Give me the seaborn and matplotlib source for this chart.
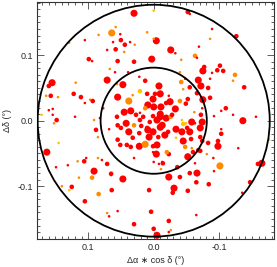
import numpy as np
import pandas as pd
import matplotlib
matplotlib.use("Agg")
import matplotlib.pyplot as plt
from matplotlib.patches import Circle
from matplotlib.ticker import MultipleLocator
import seaborn as sns

# ---- data (degrees offsets), size class, colour class ----
x = [0.030, 0.058, 0.064, 0.084, 0.051, 0.105, 0.050, 0.062, 0.044, 0.036,
     0.029, 0.129, 0.058, 0.071, 0.045, 0.099, 0.094, 0.055, 0.030, 0.067,
     0.059, 0.039, 0.071, 0.047, 0.056, 0.022, 0.013, 0.155, 0.160, 0.119,
     0.122, 0.055, 0.164, 0.157, 0.146, 0.111, 0.097, 0.093, 0.105, 0.032,
     0.021, 0.038, 0.154, 0.160, 0.077, 0.009, 0.013, 0.045, 0.035, 0.027,
     0.056, 0.171, 0.154, 0.148, 0.120, 0.082, 0.091, 0.042, 0.055, 0.030,
     0.019, 0.050, 0.068, 0.088, 0.152, 0.085, 0.038, 0.022, 0.009, 0.007,
     0.032, 0.055, 0.041, 0.035, 0.022, 0.013, 0.051, 0.001, 0.001, 0.030,
     0.085, 0.079, 0.071, 0.065, 0.047, 0.145, 0.163, 0.149, 0.131, 0.116,
     0.106, 0.103, 0.091, 0.065, 0.114, 0.094, 0.125, 0.129, 0.140, 0.064,
     0.084, 0.105, 0.055, 0.071, 0.068, 0.030, 0.007,
     0.000, -0.052, -0.055, 0.010, -0.089, -0.004, 0.000, -0.126, -0.086, -0.026,
     -0.033, -0.069, -0.063, -0.066, -0.042, 0.003, -0.101, -0.077, -0.075, -0.097,
     -0.106, -0.089, -0.040, -0.124, -0.121, -0.068, -0.048, -0.086, -0.042, -0.008,
     -0.055, -0.072, -0.045, -0.083, -0.138, -0.002, -0.010, 0.010, -0.023, -0.066,
     -0.086, -0.075, -0.040, -0.049, 0.001, -0.011, -0.019, 0.000, -0.025, -0.033,
     -0.052, -0.110, -0.121, -0.074, -0.092, 0.016, 0.001, -0.010, -0.019, -0.005,
     -0.026, -0.043, -0.049, -0.062, -0.072, -0.063, -0.156, -0.136, 0.006, -0.013,
     0.010, -0.034, -0.051, -0.071, 0.001, -0.103, -0.028, -0.010, 0.021, 0.021,
     -0.034, -0.057, -0.098, -0.098, -0.176, -0.004, -0.023, -0.052, -0.071, -0.081,
     -0.091, 0.000, -0.008, -0.011, -0.014, -0.063, -0.066, -0.092, -0.101, -0.159,
     -0.165, -0.023, -0.040, -0.065, -0.084, -0.147, -0.029, -0.052, -0.135, 0.004,
     -0.023, -0.065, -0.026, -0.023, 0.000, -0.005, -0.045, -0.058, -0.074, -0.043,
     -0.055, -0.022, -0.017, -0.010, -0.007, -0.045, -0.071, -0.074, -0.083, -0.005,
     -0.048, -0.058, -0.060, -0.068, -0.020, -0.013, -0.036, -0.055, -0.031, -0.103,
     -0.103, -0.129]
y = [0.164, 0.143, 0.134, 0.131, 0.132, 0.123, 0.123, 0.120, 0.116, 0.120,
     0.116, 0.119, 0.109, 0.108, 0.105, 0.094, 0.091, 0.091, 0.090, 0.079,
     0.074, 0.074, 0.062, 0.055, 0.056, 0.067, 0.061, 0.058, 0.053, 0.058,
     0.041, 0.036, 0.038, 0.038, 0.036, 0.036, 0.032, 0.030, 0.027, 0.039,
     0.045, 0.030, 0.018, 0.016, 0.019, 0.024, 0.019, 0.013, 0.015, 0.009,
     0.006, 0.009, 0.009, 0.001, 0.006, 0.004, 0.001, -0.004, -0.007, -0.007,
     -0.008, -0.011, -0.013, -0.014, -0.004, -0.025, -0.017, -0.019, -0.014, -0.025,
     -0.026, -0.029, -0.037, -0.040, -0.039, -0.036, -0.037, -0.039, -0.048, -0.057,
     -0.057, -0.060, -0.066, -0.083, -0.089, -0.034, -0.048, -0.071, -0.068, -0.062,
     -0.062, -0.057, -0.077, -0.081, -0.087, -0.087, -0.101, -0.106, -0.100, -0.106,
     -0.112, -0.123, -0.138, -0.141, -0.146, -0.158, -0.106,
     0.168, 0.166, 0.163, 0.135, 0.140, 0.122, 0.125, 0.129, 0.125, 0.108,
     0.103, 0.113, 0.099, 0.096, 0.093, 0.094, 0.084, 0.082, 0.076, 0.077,
     0.076, 0.073, 0.074, 0.070, 0.061, 0.062, 0.064, 0.064, 0.059, 0.053,
     0.051, 0.053, 0.048, 0.050, 0.051, 0.041, 0.041, 0.041, 0.038, 0.042,
     0.035, 0.032, 0.030, 0.026, 0.033, 0.021, 0.027, 0.021, 0.029, 0.018,
     0.033, 0.019, 0.009, 0.019, 0.007, 0.006, 0.007, 0.006, 0.004, 0.001,
     0.006, 0.001, -0.004, 0.013, 0.009, -0.004, 0.006, 0.000, -0.002, -0.007,
     -0.011, -0.013, -0.011, -0.011, -0.017, 0.015, 0.009, 0.010, 0.001, 0.012,
     -0.026, -0.028, -0.031, -0.039, -0.029, -0.051, -0.051, -0.055, -0.046, -0.051,
     -0.057, -0.063, -0.066, -0.074, -0.065, -0.065, -0.080, -0.077, -0.069, -0.066,
     -0.065, -0.086, -0.086, -0.094, -0.097, -0.094, -0.110, -0.107, -0.110, -0.139,
     -0.153, -0.144, -0.167, -0.170, -0.165, -0.175, -0.005, -0.002, -0.002, -0.017,
     -0.017, -0.017, -0.022, -0.010, -0.025, -0.031, -0.025, -0.031, -0.034, -0.037,
     -0.040, -0.042, -0.048, -0.045, -0.048, -0.063, -0.071, -0.080, -0.103, -0.013,
     -0.020, -0.042]
size_class = ["l", "s", "l", "s", "s", "s", "m", "s", "m", "s",
              "s", "s", "m", "s", "s", "m", "s", "m", "m", "s",
              "s", "s", "l", "l", "s", "s", "m", "l", "m", "s",
              "m", "l", "s", "m", "s", "m", "s", "m", "s", "s",
              "m", "l", "s", "s", "s", "l", "m", "l", "l", "m",
              "m", "s", "s", "m", "s", "s", "s", "l", "m", "m",
              "m", "m", "s", "m", "s", "s", "l", "m", "l", "l",
              "m", "m", "m", "m", "l", "l", "m", "m", "s", "s",
              "s", "s", "m", "s", "l", "s", "l", "s", "s", "s",
              "m", "s", "l", "m", "s", "m", "m", "s", "s", "m",
              "m", "m", "s", "s", "s", "m", "m",
              "s", "m", "s", "s", "s", "l", "s", "m", "s", "l",
              "s", "s", "m", "s", "s", "l", "m", "m", "l", "m",
              "m", "s", "s", "m", "s", "l", "s", "s", "m", "l",
              "m", "l", "s", "m", "m", "m", "l", "m", "s", "m",
              "m", "l", "m", "m", "l", "l", "m", "l", "l", "l",
              "m", "m", "s", "s", "s", "m", "m", "l", "l", "l",
              "m", "s", "s", "s", "m", "s", "s", "l", "m", "l",
              "m", "l", "m", "l", "l", "s", "m", "l", "m", "s",
              "s", "m", "m", "l", "s", "l", "m", "l", "m", "s",
              "s", "s", "s", "s", "m", "s", "l", "s", "l", "m",
              "l", "l", "m", "m", "m", "m", "m", "m", "s", "m",
              "m", "s", "s", "s", "m", "l", "m", "l", "l", "l",
              "l", "m", "l", "l", "m", "l", "m", "m", "m", "l",
              "m", "s", "m", "m", "m", "s", "m", "m", "l", "s",
              "m", "s"]
color_class = ["r", "o", "o", "o", "r", "r", "r", "r", "r", "r",
               "o", "o", "r", "r", "o", "r", "r", "r", "r", "o",
               "r", "r", "r", "r", "o", "r", "r", "r", "r", "o",
               "r", "r", "o", "r", "o", "r", "o", "r", "r", "o",
               "y", "o", "r", "r", "r", "r", "o", "r", "r", "r",
               "r", "y", "r", "r", "r", "r", "o", "r", "r", "o",
               "r", "r", "r", "r", "o", "o", "r", "r", "r", "r",
               "r", "r", "r", "r", "r", "o", "r", "r", "r", "r",
               "o", "r", "r", "r", "r", "y", "r", "r", "r", "o",
               "r", "r", "r", "r", "o", "o", "r", "y", "o", "r",
               "o", "r", "r", "o", "r", "r", "r",
               "y", "r", "r", "o", "r", "r", "o", "r", "o", "r",
               "r", "r", "o", "r", "o", "r", "r", "r", "r", "r",
               "r", "r", "o", "o", "o", "r", "r", "r", "o", "r",
               "r", "r", "o", "r", "r", "r", "r", "r", "r", "r",
               "r", "r", "o", "r", "r", "r", "r", "r", "r", "r",
               "r", "r", "r", "r", "r", "r", "r", "r", "r", "r",
               "o", "y", "y", "o", "r", "r", "r", "r", "r", "r",
               "r", "r", "r", "r", "r", "r", "r", "r", "r", "r",
               "y", "r", "r", "r", "y", "r", "r", "r", "r", "o",
               "r", "r", "r", "o", "r", "r", "r", "r", "o", "r",
               "r", "r", "r", "r", "r", "r", "r", "r", "r", "r",
               "r", "r", "o", "r", "r", "r", "y", "r", "r", "r",
               "r", "r", "r", "r", "r", "r", "r", "r", "r", "r",
               "o", "o", "r", "r", "o", "r", "r", "r", "r", "r",
               "r", "r"]

circle_radii = [0.081, 0.177]
xlim = (0.178, -0.1835)
ylim = (-0.1806, 0.1812)
ticks = [-0.1, 0.0, 0.1]
tick_labels = ["-0.1", "0.0", "0.1"]

palette = {"r": "#ff0000", "o": "#ff8a00", "y": "#ffc400"}
sizes = {"s": 3.5, "m": 11, "l": 26}

n = min(len(x), len(y), len(size_class), len(color_class))
df = pd.DataFrame({"x": x[:n], "y": y[:n], "s": size_class[:n], "c": color_class[:n]})

sns.set_style("ticks")
plt.rcParams["font.family"] = ["Liberation Sans", "DejaVu Sans"]
plt.rcParams["axes.unicode_minus"] = False

fig = plt.figure(figsize=(2.77, 2.67), dpi=100)
ax = fig.add_axes([37 / 277, 1 - 239 / 267, 237 / 277, 237 / 267])

sns.scatterplot(data=df, x="x", y="y", hue="c", size="s", palette=palette,
                sizes=sizes, linewidth=0, legend=False, ax=ax, zorder=2)

for r in circle_radii:
    ax.add_patch(Circle((0, 0), r, fill=False, edgecolor="black", lw=1.3, zorder=3))

ax.set_xlim(*xlim)
ax.set_ylim(*ylim)
ax.set_xticks(ticks)
ax.set_xticklabels(tick_labels)
ax.set_yticks(ticks)
ax.set_yticklabels(tick_labels)
ax.xaxis.set_minor_locator(MultipleLocator(0.01))
ax.yaxis.set_minor_locator(MultipleLocator(0.01))
ax.tick_params(which="both", direction="in", top=True, right=True,
               width=0.6, color="#444444")
ax.tick_params(which="major", length=5, labelsize=6.5, pad=3)
ax.tick_params(which="minor", length=2.5)
for sp in ax.spines.values():
    sp.set_linewidth(0.8)
    sp.set_color("#333333")

ax.set_xlabel("Δα ∗ cos δ (°)", fontsize=6.5, labelpad=3)
ax.set_ylabel("Δδ (°)", fontsize=6.5, labelpad=4)

fig.savefig("out.png", dpi=100)
